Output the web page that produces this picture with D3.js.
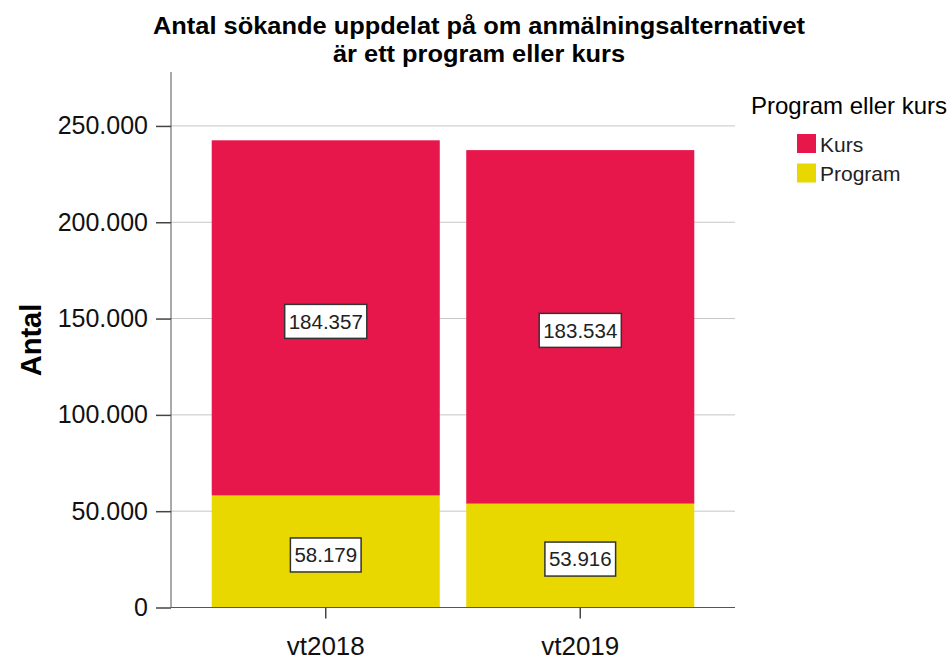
<!DOCTYPE html>
<html><head><meta charset="utf-8">
<script src="https://cdn.jsdelivr.net/npm/d3@7"></script>
<style>
body{margin:0;background:#fff;}
svg{display:block;font-family:"Liberation Sans",Arial,sans-serif;}
</style></head>
<body><svg id="c" width="951" height="661"></svg>
<script>
const categories = ["vt2018", "vt2019"];
const seriesNames = ["Program", "Kurs"];
const programValues = [58179, 53916];
const kursValues = [184357, 183534];
const yTicks = [0, 50000, 100000, 150000, 200000, 250000];
const legendOrder = ["Kurs", "Program"];
const colors = {Kurs: "#e8174b", Program: "#e9d800"};

const svg = d3.select("#c");
const fmt = d3.formatLocale({decimal: ",", thousands: ".", grouping: [3], currency: ["", ""]}).format(",d");

const x = d3.scaleBand().domain(categories).range([171, 735]).paddingInner(0.104).paddingOuter(0.16);
const y = d3.scaleLinear().domain([0, 278000]).range([607.5, 72]);

const rows = categories.map((c, i) => ({cat: c, Program: programValues[i], Kurs: kursValues[i]}));
const stacked = d3.stack().keys(seriesNames)(rows);

// gridlines
svg.append("g").selectAll("line").data(yTicks.filter(d => d > 0)).join("line")
  .attr("x1", 171).attr("x2", 735).attr("y1", d => y(d)).attr("y2", d => y(d))
  .attr("stroke", "#c6c6c6").attr("stroke-width", 1);

// bars
svg.append("g").selectAll("g").data(stacked).join("g")
  .attr("fill", s => colors[s.key])
  .selectAll("rect").data(s => s).join("rect")
  .attr("x", d => x(d.data.cat)).attr("width", x.bandwidth())
  .attr("y", d => y(d[1])).attr("height", d => y(d[0]) - y(d[1]));

// y axis
const yAxis = svg.append("g").attr("transform", "translate(171,0)")
  .call(d3.axisLeft(y).tickValues(yTicks).tickFormat(fmt).tickSize(15).tickPadding(8));
yAxis.select(".domain").attr("d", `M0,${y(278000)}V${y(0)}`).attr("stroke", "#555");
yAxis.selectAll(".tick line").attr("stroke", "#444").attr("stroke-width", 1.5);
yAxis.selectAll("text").attr("font-size", 25).attr("fill", "#111").attr("font-family", "Liberation Sans, Arial, sans-serif");

// x axis
const xAxis = svg.append("g").attr("transform", `translate(0,${y(0)})`)
  .call(d3.axisBottom(x).tickSize(11).tickPadding(18));
xAxis.select(".domain").attr("d", `M171,0H735`).attr("stroke", "#555");
xAxis.selectAll(".tick line").attr("stroke", "#444").attr("stroke-width", 1.5);
xAxis.selectAll("text").attr("font-size", 26).attr("fill", "#111").attr("font-family", "Liberation Sans, Arial, sans-serif");

// value labels
const labels = [];
stacked.forEach(s => s.forEach(d => labels.push({cat: d.data.cat, v: d.data[s.key], mid: (y(d[0]) + y(d[1])) / 2 + 3.5})));
const lg = svg.append("g").selectAll("g").data(labels).join("g")
  .attr("transform", d => `translate(${x(d.cat) + x.bandwidth() / 2},${d.mid})`);
lg.append("text").attr("text-anchor", "middle").attr("dy", "0.36em")
  .attr("font-size", 20.5).attr("fill", "#222").text(d => fmt(d.v));
lg.each(function() {
  const g = d3.select(this);
  const bb = g.select("text").node().getBBox();
  g.insert("rect", "text").attr("x", bb.x - 4).attr("y", -17).attr("width", bb.width + 8).attr("height", 34)
    .attr("fill", "#fff").attr("stroke", "#333").attr("stroke-width", 1.5);
});

// title
const title = svg.append("text").attr("text-anchor", "middle").attr("font-weight", "bold")
  .attr("font-size", 23).attr("fill", "#000");
title.append("tspan").attr("x", 479).attr("y", 34).text("Antal sökande uppdelat på om anmälningsalternativet")
  .attr("textLength", 652).attr("lengthAdjust", "spacingAndGlyphs");
title.append("tspan").attr("x", 479).attr("y", 62).text("är ett program eller kurs")
  .attr("textLength", 292).attr("lengthAdjust", "spacingAndGlyphs");

// y axis title
svg.append("text").attr("transform", "translate(41,340) rotate(-90)").attr("text-anchor", "middle")
  .attr("font-weight", "bold").attr("font-size", 29).attr("fill", "#000").text("Antal");

// legend
svg.append("text").attr("x", 751).attr("y", 114).attr("font-size", 24).attr("fill", "#000").text("Program eller kurs");
const leg = svg.append("g").selectAll("g").data(legendOrder).join("g")
  .attr("transform", (d, i) => `translate(797,${134 + i * 29.5})`);
leg.append("rect").attr("width", 19).attr("height", 19).attr("fill", d => colors[d]);
leg.append("text").attr("x", 23).attr("y", 10).attr("dy", "0.36em").attr("font-size", 21).attr("fill", "#222").text(d => d);
</script></body></html>
